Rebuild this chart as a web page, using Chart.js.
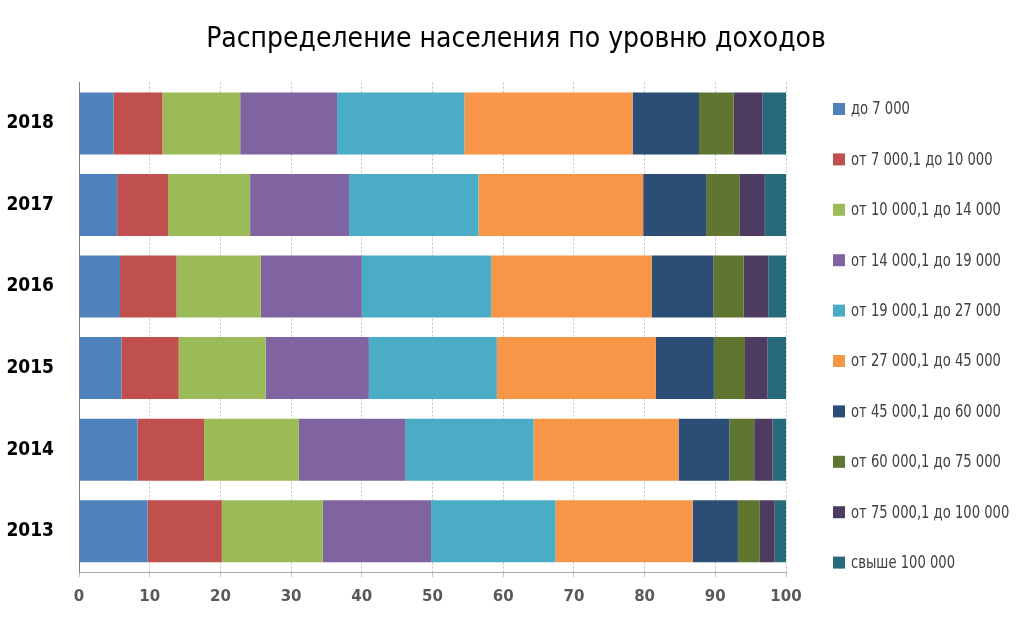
<!DOCTYPE html>
<html>
<head>
<meta charset="utf-8">
<script src="https://cdn.jsdelivr.net/npm/chart.js@4"></script>
<style>
  html, body { margin: 0; padding: 0; background: #fff; }
  #wrap { width: 1032px; height: 621px; }
</style>
</head>
<body>
<div id="wrap"><canvas id="myChart" width="1032" height="621"></canvas></div>
<script>
// years, top to bottom
const years = ['2018', '2017', '2016', '2015', '2014', '2013'];

const seriesNames = [
  'до 7 000',
  'от 7 000,1 до 10 000',
  'от 10 000,1 до 14 000',
  'от 14 000,1 до 19 000',
  'от 19 000,1 до 27 000',
  'от 27 000,1 до 45 000',
  'от 45 000,1 до 60 000',
  'от 60 000,1 до 75 000',
  'от 75 000,1 до 100 000',
  'свыше 100 000'
];

// shares in %, same order as years
const upTo7k     = [4.9, 5.4, 5.8, 6.0, 8.3, 9.7];
const from7k     = [6.9, 7.2, 8.0, 8.1, 9.4, 10.5];
const from10k    = [11.0, 11.6, 11.9, 12.3, 13.4, 14.3];
const from14k    = [13.7, 14.0, 14.3, 14.6, 15.1, 15.3];
const from19k    = [18.0, 18.3, 18.3, 18.1, 18.1, 17.6];
const from27k    = [23.8, 23.3, 22.7, 22.5, 20.5, 19.4];
const from45k    = [9.4, 8.9, 8.7, 8.2, 7.2, 6.4];
const from60k    = [4.9, 4.7, 4.3, 4.4, 3.5, 3.1];
const from75k    = [4.1, 3.6, 3.5, 3.2, 2.6, 2.1];
const over100k   = [3.4, 3.0, 2.6, 2.6, 1.9, 1.7];

const xTicks = [0, 10, 20, 30, 40, 50, 60, 70, 80, 90, 100];

const colors = ['#4F81BD', '#C0504D', '#9BBB59', '#8064A2', '#4BACC6',
                '#F79646', '#2C4D75', '#5F7530', '#4D3B62', '#276A7C'];

const allSeries = [upTo7k, from7k, from10k, from14k, from19k,
                   from27k, from45k, from60k, from75k, over100k];

const narrow = '"Liberation Sans Narrow", "DejaVu Sans Condensed", "Roboto Condensed", "Noto Sans", sans-serif';

// legend drawn on the right side of the plot, text squeezed a bit
const sideLegend = {
  id: 'sideLegend',
  afterDraw(chart) {
    const ctx = chart.ctx;
    const x = chart.chartArea.right + 47;
    const squeeze = 0.86;
    ctx.save();
    ctx.font = '17px ' + narrow;
    ctx.textBaseline = 'middle';
    ctx.textAlign = 'left';
    chart.data.datasets.forEach((ds, i) => {
      const y = 109 + i * 50.4;
      ctx.fillStyle = ds.backgroundColor;
      ctx.fillRect(x, y - 6, 12, 12);
      ctx.save();
      ctx.translate(x + 18, y + 1);
      ctx.scale(squeeze, 1);
      ctx.fillStyle = '#404040';
      ctx.fillText(ds.label, 0, 0);
      ctx.restore();
    });
    ctx.restore();
  }
};

const ctx = document.getElementById('myChart');
new Chart(ctx, {
  type: 'bar',
  data: {
    labels: years,
    datasets: allSeries.map((vals, i) => ({
      label: seriesNames[i],
      data: vals,
      backgroundColor: colors[i],
      borderWidth: 0,
      categoryPercentage: 1,
      barPercentage: 0.76
    }))
  },
  options: {
    indexAxis: 'y',
    responsive: false,
    animation: false,
    layout: { padding: 0 },
    plugins: {
      legend: { display: false },
      tooltip: { enabled: false },
      title: {
        display: true,
        text: 'Распределение населения по уровню доходов',
        color: '#000',
        font: { family: narrow, size: 28, weight: 'normal' },
        padding: { top: 23, bottom: 26 }
      }
    },
    scales: {
      x: {
        stacked: true,
        min: 0,
        max: 100,
        afterBuildTicks: (s) => { s.ticks = xTicks.map(v => ({ value: v })); },
        grid: { color: '#c4c4c4', lineWidth: 1, tickLength: 5 },
        border: { color: '#a6a6a6', width: 1, dash: [2, 2] },
        ticks: {
          color: '#595959',
          padding: 11,
          font: { family: '"DejaVu Sans"', size: 15, weight: 'bold' }
        },
        afterFit: (s) => { s.height = 49; }
      },
      y: {
        stacked: true,
        z: 1,
        grid: { display: false, drawTicks: false },
        border: { color: '#808080', width: 1 },
        ticks: {
          color: '#000',
          padding: 25,
          font: { family: narrow, size: 19, weight: 'bold' }
        },
        afterFit: (s) => { s.width = 79; }
      },
      // empty axis that keeps room for the legend on the right
      yRight: {
        type: 'category',
        position: 'right',
        grid: { display: false },
        border: { display: false },
        ticks: { display: false },
        afterFit: (s) => { s.width = 246; }
      }
    }
  },
  plugins: [sideLegend]
});
</script>
</body>
</html>
